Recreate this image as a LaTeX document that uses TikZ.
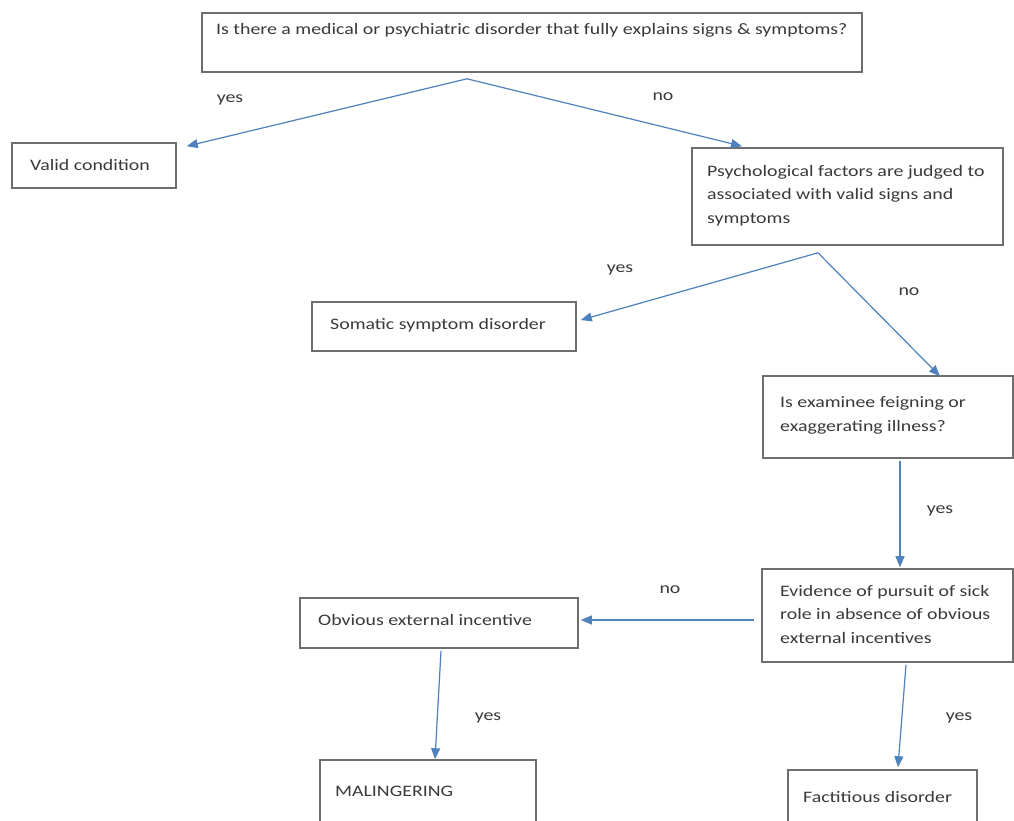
\documentclass[tikz,border=0pt]{standalone}
\usepackage{fontspec}
\setmainfont{Carlito}[FakeStretch=1.24]
\usetikzlibrary{arrows.meta}
\definecolor{boxline}{HTML}{6E6E6E}
\definecolor{txtcol}{HTML}{3A3A3A}
\definecolor{arrblue}{HTML}{4F81BD}
\tikzset{
  box/.style={draw=boxline, line width=1.6pt, fill=white, rectangle, inner sep=0pt},
  txt/.style={text=txtcol, font=\fontsize{16}{23.5}\selectfont, inner sep=0pt, align=left, anchor=west},
  lbl/.style={text=txtcol, font=\fontsize{16}{18}\selectfont, inner sep=0pt},
  arr/.style={draw=arrblue, line width=1.2pt, -{Triangle[length=11pt,width=9pt]}},
}
\begin{document}
\begin{tikzpicture}[x=1pt,y=-1pt]
\clip (0,0) rectangle (1014,821);
\fill[white] (0,0) rectangle (1014,821);

% boxes
\node[box, minimum width=660pt, minimum height=59pt] (top) at (532,42.5) {};
\node[box, minimum width=164pt, minimum height=45pt] (valid) at (94,165.5) {};
\node[box, minimum width=311pt, minimum height=97pt] (psych) at (847.5,196.5) {};
\node[box, minimum width=264pt, minimum height=49pt] (soma) at (444,326.5) {};
\node[box, minimum width=250pt, minimum height=82pt] (exam) at (888,417) {};
\node[box, minimum width=251pt, minimum height=93pt] (evid) at (887.5,615.5) {};
\node[box, minimum width=278pt, minimum height=50pt] (obv) at (439,623) {};
\node[box, minimum width=216pt, minimum height=80pt] (mal) at (428,800) {};
\node[box, minimum width=189pt, minimum height=70pt] (fact) at (882.5,805) {};

% texts
\node[txt] (ttop) at (216,30) {Is there a medical or psychiatric disorder that fully explains signs \& symptoms?};
\node[txt] (tvalid) at (30,165) {Valid condition};
\node[txt] (tpsych) at (707,195.5) {Psychological factors are judged to\\associated with valid signs and\\symptoms};
\node[txt] (tsoma) at (330,325) {Somatic symptom disorder};
\node[txt] (texam) at (780,415.5) {Is examinee feigning or\\exaggerating illness?};
\node[txt] (tevid) at (780,614) {Evidence of pursuit of sick\\role in absence of obvious\\external incentives};
\node[txt] (tobv) at (318,620) {Obvious external incentive};
\node[txt] (tmal) at (335,791) {MALINGERING};
\node[txt] (tfact) at (803,797) {Factitious disorder};

% connectors (xshift/yshift act on the page: positive yshift moves up)
\coordinate (c1) at ([xshift=-65pt,yshift=-6pt]top.south);
\draw[arr] (c1) -- ([xshift=10pt,yshift=-4pt]valid.north east);
\draw[arr] (c1) -- ([xshift=-105.5pt,yshift=1pt]psych.north);
\coordinate (c2) at ([xshift=-29.5pt,yshift=-7pt]psych.south);
\draw[arr] (c2) -- ([xshift=4pt,yshift=6.5pt]soma.east);
\draw[arr] (c2) -- ([xshift=52pt,yshift=-1pt]exam.north);
\draw[arr] ([xshift=12pt,yshift=-2pt]exam.south) -- ([xshift=12.5pt,yshift=1pt]evid.north);
\draw[arr] ([xshift=-7pt,yshift=-4.5pt]evid.west) -- ([xshift=2pt,yshift=3pt]obv.east);
\draw[arr] ([xshift=2pt,yshift=-2pt]obv.south) -- ([xshift=7pt,yshift=0pt]mal.north);
\draw[arr] ([xshift=18.5pt,yshift=-2pt]evid.south) -- ([xshift=15.5pt,yshift=2pt]fact.north);

% labels
\node[lbl] (l1) at (230,100) {yes};
\node[lbl] (l2) at (663,97) {no};
\node[lbl] (l3) at (620,270) {yes};
\node[lbl] (l4) at (909,292) {no};
\node[lbl] (l5) at (940,511) {yes};
\node[lbl] (l6) at (670,590) {no};
\node[lbl] (l7) at (488,718) {yes};
\node[lbl] (l8) at (959,718) {yes};
\end{tikzpicture}
\end{document}
